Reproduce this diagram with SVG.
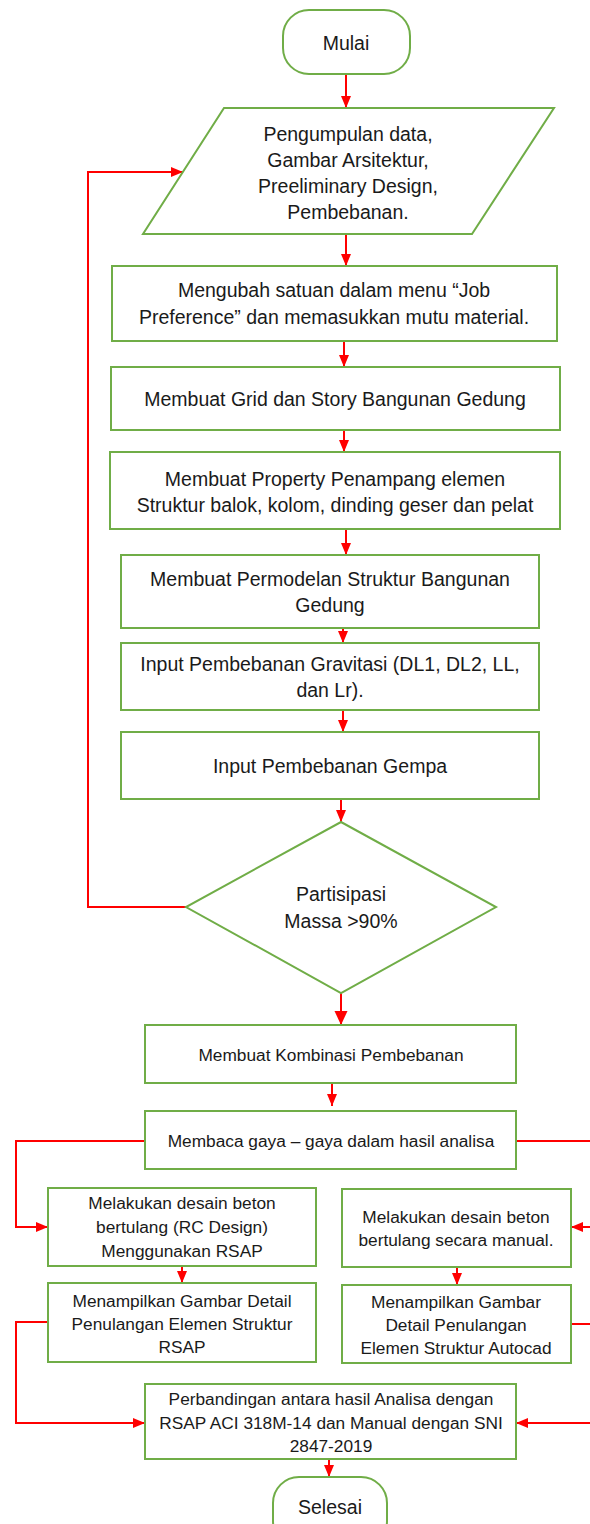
<svg xmlns="http://www.w3.org/2000/svg" width="590" height="1524" viewBox="0 0 590 1524">
<style>
.n{fill:#fff;stroke:#70AD47;stroke-width:2}
.c{fill:none;stroke:#FF0000;stroke-width:2}
.t{font-family:"Liberation Sans",Arial,sans-serif;font-size:19.5px;fill:#1a1a1a;text-anchor:middle;dominant-baseline:central}
.s{font-size:17.3px}
</style>
<defs>
<marker id="ah" markerUnits="userSpaceOnUse" markerWidth="12" markerHeight="12" viewBox="0 0 12 12" refX="12" refY="6" orient="auto">
<path d="M0,1 L12,6 L0,11 Z" fill="#FF0000"/>
</marker>
<marker id="ah2" markerUnits="userSpaceOnUse" markerWidth="14" markerHeight="14" viewBox="0 0 14 14" refX="14" refY="7" orient="auto">
<path d="M0,0.5 L14,7 L0,13.5 Z" fill="#FF0000"/>
</marker>
</defs>
<rect width="590" height="1524" fill="#fff"/>
<g id="connectors">
<path class="c" d="M346,74 V108" marker-end="url(#ah)"/>
<path class="c" d="M346,234 V266" marker-end="url(#ah)"/>
<path class="c" d="M344,341 V367" marker-end="url(#ah)"/>
<path class="c" d="M344,430 V452" marker-end="url(#ah)"/>
<path class="c" d="M346,529 V555" marker-end="url(#ah)"/>
<path class="c" d="M343,615 V643" marker-end="url(#ah)"/>
<path class="c" d="M343,703 V732" marker-end="url(#ah)"/>
<path class="c" d="M341,799 V822" marker-end="url(#ah)"/>
<path class="c" d="M186,907 H88 V172 H183" marker-end="url(#ah)"/>
<path class="c" d="M341,993 V1025" stroke-width="2.5" marker-end="url(#ah2)"/>
<path class="c" d="M332,1077 V1106" stroke-width="1.5" marker-end="url(#ah)"/>
<path class="c" d="M145,1141 H16 V1227 H48" stroke-width="1.5" marker-end="url(#ah)"/>
<path class="c" d="M516,1141 H598 V1227 H571" stroke-width="1.5" marker-end="url(#ah)"/>
<path class="c" d="M182,1266 V1283" stroke-width="1.5" marker-end="url(#ah)"/>
<path class="c" d="M457,1267 V1285" stroke-width="1.5" marker-end="url(#ah)"/>
<path class="c" d="M48,1322 H16 V1423 H145" stroke-width="1.5" marker-end="url(#ah)"/>
<path class="c" d="M571,1324 H598 V1423 H516" stroke-width="1.5" marker-end="url(#ah)"/>
<path class="c" d="M329,1459 V1477" stroke-width="1.5" marker-end="url(#ah)"/>
</g>
<g id="mulai">
<rect class="n" x="283" y="10" width="127" height="64" rx="26"/>
<text class="t" x="346" y="43" font-size="20.5">Mulai</text>
</g>
<g id="pengumpulan">
<polygon class="n" points="224,108 554,108 472,234 143,234"/>
<text class="t" x="348" y="134">Pengumpulan data,</text>
<text class="t" x="348" y="160">Gambar Arsitektur,</text>
<text class="t" x="348" y="186">Preeliminary Design,</text>
<text class="t" x="348" y="212">Pembebanan.</text>
</g>
<g id="mengubah">
<rect class="n" x="112" y="266" width="445" height="75"/>
<text class="t" x="334" y="290">Mengubah satuan dalam menu “Job</text>
<text class="t" x="334" y="317">Preference” dan memasukkan mutu material.</text>
</g>
<g id="grid">
<rect class="n" x="111" y="367" width="449" height="63"/>
<text class="t" x="335" y="399">Membuat Grid dan Story Bangunan Gedung</text>
</g>
<g id="property">
<rect class="n" x="110" y="452" width="450" height="77"/>
<text class="t" x="335" y="479">Membuat Property Penampang elemen</text>
<text class="t" x="335" y="505">Struktur balok, kolom, dinding geser dan pelat</text>
</g>
<g id="permodelan">
<rect class="n" x="121" y="555" width="418" height="73"/>
<text class="t" x="330" y="579">Membuat Permodelan Struktur Bangunan</text>
<text class="t" x="330" y="605">Gedung</text>
</g>
<g id="gravitasi">
<rect class="n" x="121" y="643" width="418" height="67"/>
<text class="t" x="330" y="664">Input Pembebanan Gravitasi (DL1, DL2, LL,</text>
<text class="t" x="330" y="690">dan Lr).</text>
</g>
<g id="gempa">
<rect class="n" x="121" y="732" width="418" height="67"/>
<text class="t" x="330" y="766">Input Pembebanan Gempa</text>
</g>
<g id="partisipasi">
<polygon class="n" points="341,822 496,907 341,993 186,907"/>
<text class="t" x="341" y="894">Partisipasi</text>
<text class="t" x="341" y="921">Massa &gt;90%</text>
</g>
<g id="kombinasi">
<rect class="n" x="145" y="1025" width="371" height="58"/>
<text class="t s" x="331" y="1055">Membuat Kombinasi Pembebanan</text>
</g>
<g id="membaca">
<rect class="n" x="145" y="1111" width="371" height="58"/>
<text class="t s" x="331" y="1141">Membaca gaya – gaya dalam hasil analisa</text>
</g>
<g id="desain-rsap">
<rect class="n" x="48" y="1188" width="268" height="78"/>
<text class="t s" x="182" y="1203">Melakukan desain beton</text>
<text class="t s" x="182" y="1227">bertulang (RC Design)</text>
<text class="t s" x="182" y="1251">Menggunakan RSAP</text>
</g>
<g id="desain-manual">
<rect class="n" x="342" y="1189" width="229" height="78"/>
<text class="t s" x="456" y="1217">Melakukan desain beton</text>
<text class="t s" x="456" y="1240">bertulang secara manual.</text>
</g>
<g id="gambar-rsap">
<rect class="n" x="48" y="1283" width="268" height="79"/>
<text class="t s" x="182" y="1301">Menampilkan Gambar Detail</text>
<text class="t s" x="182" y="1324">Penulangan Elemen Struktur</text>
<text class="t s" x="182" y="1347">RSAP</text>
</g>
<g id="gambar-autocad">
<rect class="n" x="342" y="1285" width="229" height="78"/>
<text class="t s" x="456" y="1302">Menampilkan Gambar</text>
<text class="t s" x="456" y="1325">Detail Penulangan</text>
<text class="t s" x="456" y="1348">Elemen Struktur Autocad</text>
</g>
<g id="perbandingan">
<rect class="n" x="145" y="1384" width="371" height="75"/>
<text class="t s" x="331" y="1399">Perbandingan antara hasil Analisa dengan</text>
<text class="t s" x="331" y="1423">RSAP ACI 318M-14 dan Manual dengan SNI</text>
<text class="t s" x="331" y="1446">2847-2019</text>
</g>
<g id="selesai">
<rect class="n" x="273" y="1477" width="114" height="70" rx="26"/>
<text class="t" x="330" y="1507" font-size="16">Selesai</text>
</g>
</svg>
